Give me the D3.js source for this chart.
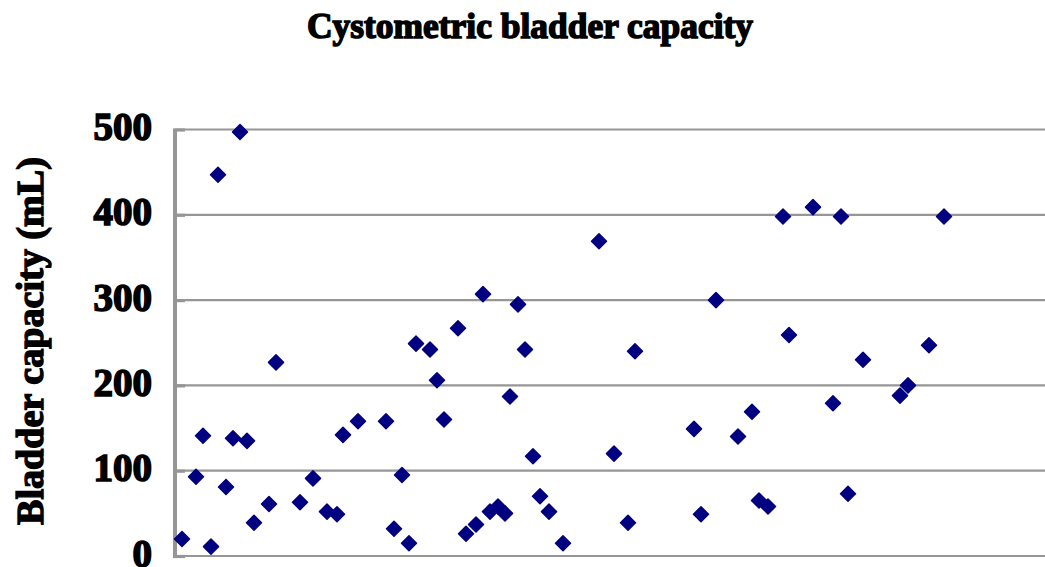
<!DOCTYPE html>
<html>
<head>
<meta charset="utf-8">
<script src="https://cdn.jsdelivr.net/npm/d3@7"></script>
<style>
  html, body { margin: 0; padding: 0; background: #fff; overflow: hidden; }
  svg { display: block; }
</style>
</head>
<body>
<svg id="chart" width="1045" height="567"></svg>
<script>
// ---- data ----
const titleText = "Cystometric bladder capacity";
const yAxisTitle = "Bladder capacity (mL)";
const yTicks = [0, 100, 200, 300, 400, 500];
// x position (arbitrary case axis, units along the plot) and capacity in mL
const caseX = [
  65, 43, 101, 28, 58, 72, 21, 51, 138, 94, 125, 79, 7, 36,
  283, 241, 255, 262, 183, 168, 211, 269, 227, 152, 162, 219, 234,
  424, 308, 343, 350, 335, 358, 291, 301, 315, 323, 330, 365, 374, 388,
  541, 460, 519, 563, 577, 439, 453, 526,
  608, 638, 666, 614, 688, 658, 584, 593, 673,
  769, 754, 725, 733
];
const capacity = [
  497, 447, 227, 141, 138, 135, 93, 81, 91, 61, 63, 39, 20, 11,
  267, 249, 242, 206, 158, 142, 158, 160, 95, 52, 49, 32, 15,
  369, 307, 295, 242, 187, 117, 26, 37, 52, 58, 50, 70, 52, 15,
  300, 240, 149, 140, 169, 120, 39, 49,
  398, 409, 398, 259, 230, 179, 65, 58, 73,
  398, 247, 188, 200
];

const svg = d3.select("#chart");
const plot = { left: 175, right: 1045, top: 129.5, bottom: 556 };

const x = d3.scaleLinear().domain([0, 870]).range([plot.left, plot.right]);
const y = d3.scaleLinear().domain([0, 500]).range([plot.bottom, plot.top]);

const gridColor = "#969696";

// gridlines
svg.append("g")
  .selectAll("line")
  .data(yTicks)
  .join("line")
  .attr("x1", plot.left)
  .attr("x2", plot.right)
  .attr("y1", d => y(d))
  .attr("y2", d => y(d))
  .attr("stroke", gridColor)
  .attr("stroke-width", 2.2);

// y axis via d3 axis (inner ticks), styled
const yAxis = svg.append("g")
  .attr("transform", `translate(${plot.left},0)`)
  .call(d3.axisRight(y).tickValues(yTicks).tickSize(10).tickFormat(""));
yAxis.select(".domain")
  .attr("d", `M0,${y(500)}V${y(0) + 1}`)
  .attr("stroke", gridColor)
  .attr("stroke-width", 4);
yAxis.selectAll(".tick line")
  .attr("x1", -2)
  .attr("stroke", gridColor)
  .attr("stroke-width", 3.2);

// tick labels
svg.append("g")
  .selectAll("text")
  .data(yTicks)
  .join("text")
  .attr("x", 152)
  .attr("y", d => y(d))
  .attr("dy", "0.27em")
  .attr("text-anchor", "end")
  .attr("font-family", "'Liberation Serif', 'Times New Roman', serif")
  .attr("font-weight", "bold")
  .attr("font-size", 39)
  .attr("fill", "#000")
  .attr("stroke", "#000")
  .attr("stroke-width", 1.6)
  .text(d => d);

// title
svg.append("text")
  .attr("x", 530)
  .attr("y", 38)
  .attr("text-anchor", "middle")
  .attr("font-family", "'Liberation Serif', 'Times New Roman', serif")
  .attr("font-weight", "bold")
  .attr("font-size", 35)
  .attr("textLength", 446)
  .attr("lengthAdjust", "spacingAndGlyphs")
  .attr("fill", "#000")
  .attr("stroke", "#000")
  .attr("stroke-width", 1.5)
  .text(titleText);

// y axis title
svg.append("text")
  .attr("transform", "translate(43,341) rotate(-90)")
  .attr("text-anchor", "middle")
  .attr("font-family", "'Liberation Serif', 'Times New Roman', serif")
  .attr("font-weight", "bold")
  .attr("font-size", 38)
  .attr("textLength", 368)
  .attr("lengthAdjust", "spacingAndGlyphs")
  .attr("fill", "#000")
  .attr("stroke", "#000")
  .attr("stroke-width", 1.4)
  .text(yAxisTitle);

// points (diamonds)
const pts = caseX.map((cx, i) => ({ x: cx, v: capacity[i] }));
const diamond = "M0,-7.5L7.5,0L0,7.5L-7.5,0Z";
svg.append("g")
  .selectAll("path")
  .data(pts)
  .join("path")
  .attr("d", diamond)
  .attr("transform", d => `translate(${x(d.x)},${y(d.v)})`)
  .attr("fill", "#000080")
  .attr("stroke", "#000080")
  .attr("stroke-width", 1.5)
  .attr("stroke-linejoin", "round");
</script>
</body>
</html>
